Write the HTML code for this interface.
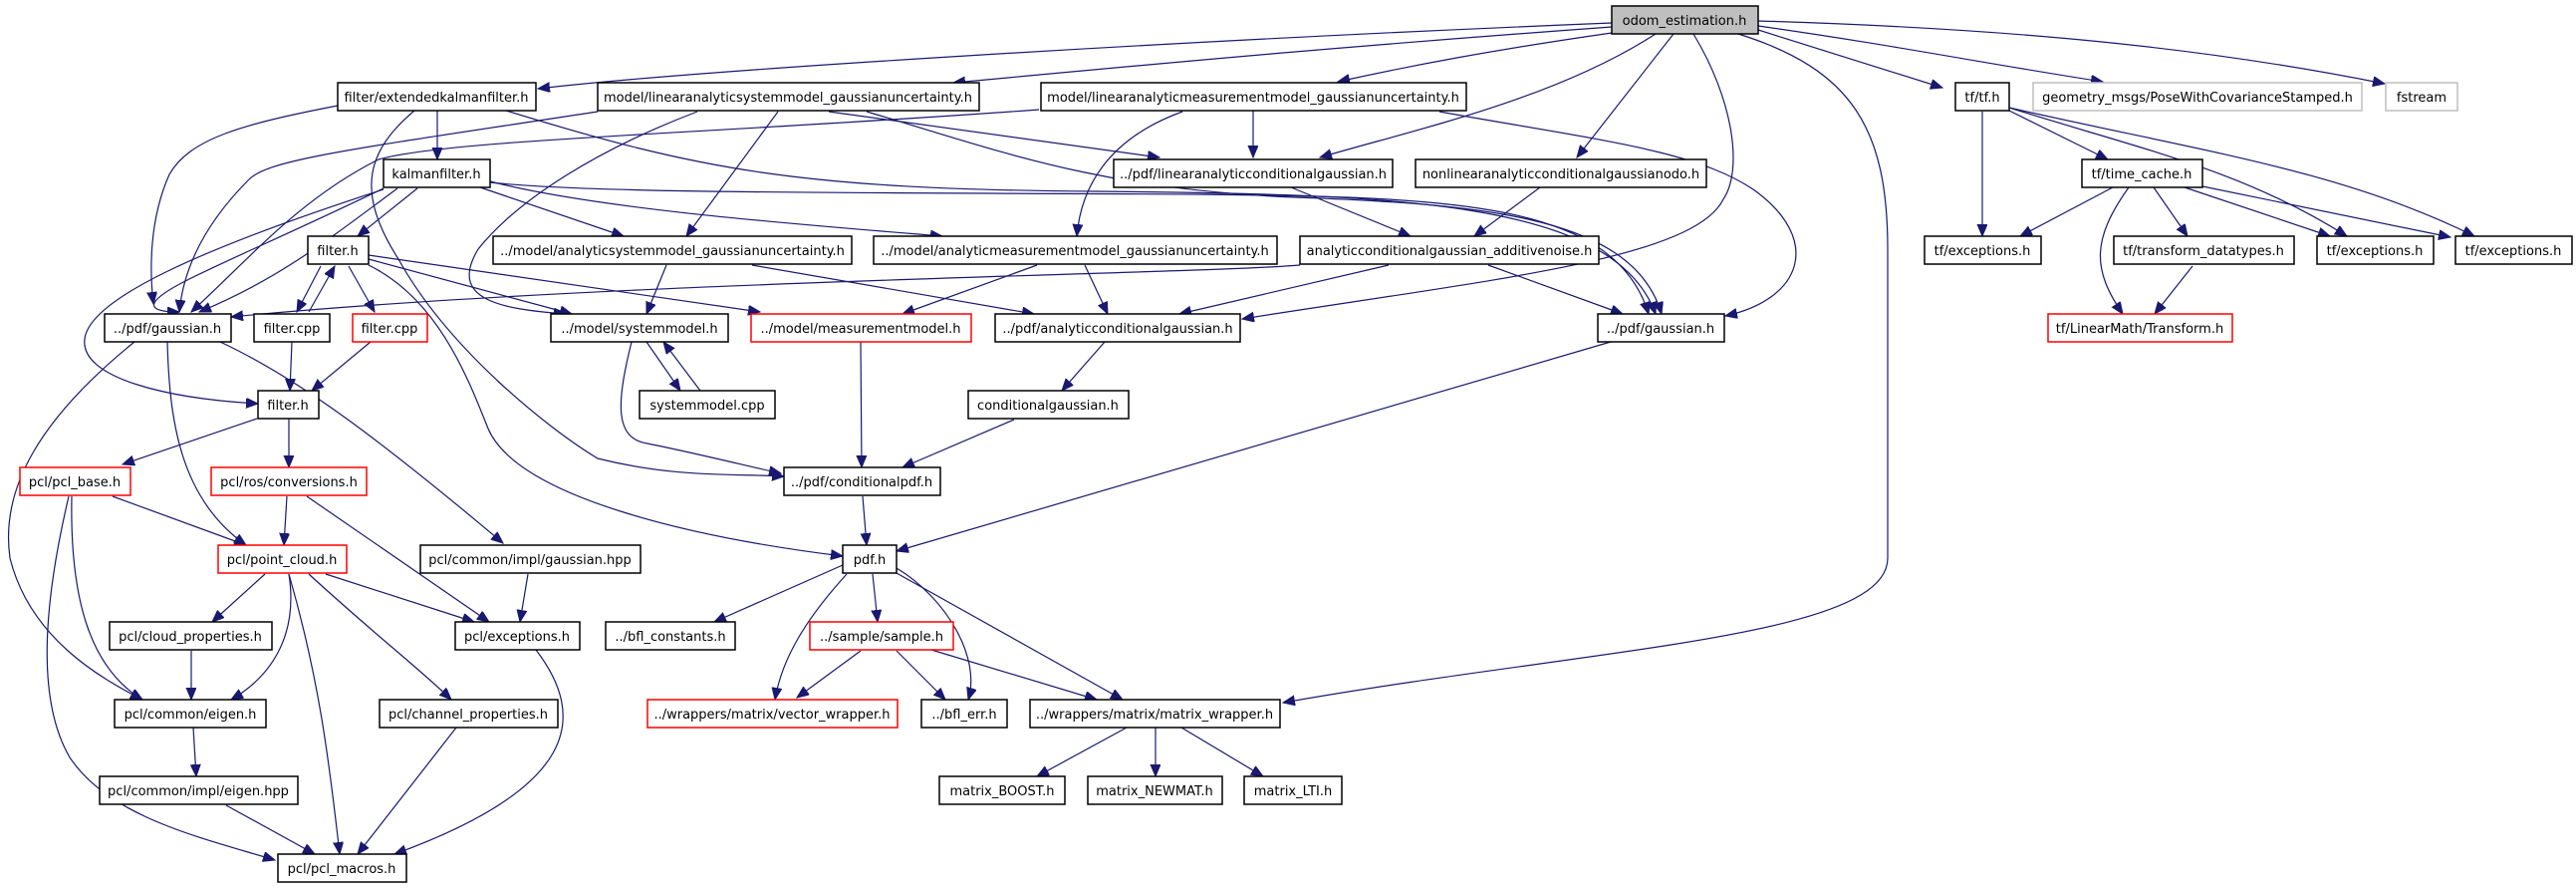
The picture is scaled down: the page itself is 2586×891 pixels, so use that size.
<!DOCTYPE html>
<html><head><meta charset="utf-8"><style>
html,body{margin:0;padding:0;background:#fff;}
svg{display:block;}
text{font-family:"DejaVu Sans","Liberation Sans",sans-serif;font-size:13px;fill:#000;text-anchor:middle;}
.n{fill:#fff;stroke:#000;stroke-width:1.5;}
.r{fill:#fff;stroke:#ff0000;stroke-width:1.5;}
.g{fill:#fff;stroke:#bfbfbf;stroke-width:1.5;}
.e{fill:none;stroke:#191970;stroke-width:1.2;marker-end:url(#a);}
</style></head><body>
<svg width="2586" height="891" viewBox="0 0 2586 891" xmlns="http://www.w3.org/2000/svg">
<defs><marker id="a" markerUnits="userSpaceOnUse" markerWidth="14" markerHeight="12" refX="12" refY="5" orient="auto"><path d="M0,0 L12,5 L0,10 z" fill="#191970" stroke="#191970"/></marker></defs>

<!-- edges -->
<g>
<path class="e" d="M1618,23 C1200,40 700,70 540,89"/>
<path class="e" d="M1618,27 C1300,50 1100,70 957,83"/>
<path class="e" d="M1618,33 C1500,50 1420,65 1343,82"/>
<path class="e" d="M1662,34 C1560,100 1420,130 1325,158"/>
<path class="e" d="M1680,34 L1583,158"/>
<path class="e" d="M1700,34 C1740,100 1750,170 1730,200 C1700,260 1500,280 1247,320"/>
<path class="e" d="M1765,30 L1950,88"/>
<path class="e" d="M1765,26 C1900,45 2000,65 2111,82"/>
<path class="e" d="M1765,21 C2000,28 2200,45 2394,84"/>
<path class="e" d="M1745,34 C1860,70 1895,130 1895,250 L1895,560 C1895,640 1600,650 1288,705"/>

<path class="e" d="M339,106 C240,125 190,140 170,175 C150,220 150,270 154,305"/>
<path class="e" d="M439,111 L439,160"/>
<path class="e" d="M416,111 C370,150 355,190 400,260 C450,350 550,430 600,460 C680,480 740,475 787,478"/>
<path class="e" d="M508,111 C700,170 800,190 1100,192 C1400,195 1620,200 1662,315"/>
<path class="e" d="M600,112 C350,150 270,160 250,180 C215,215 185,260 180,313"/>
<path class="e" d="M700,112 C600,150 520,200 480,250 C450,300 500,310 568,315"/>
<path class="e" d="M781,112 L689,237"/>
<path class="e" d="M832,112 L1164,158"/>
<path class="e" d="M870,112 C1000,150 1100,190 1300,198 C1500,205 1640,220 1668,315"/>
<path class="e" d="M1043,110 C700,135 450,140 380,160 C300,200 250,260 192,313"/>
<path class="e" d="M1258,111 L1258,158"/>
<path class="e" d="M1187,112 C1110,140 1085,190 1081,237"/>
<path class="e" d="M1445,112 C1600,140 1700,150 1760,190 C1830,240 1810,300 1732,317"/>

<path class="e" d="M385,189 C300,230 230,260 190,280 C150,300 140,313 180,313"/>
<path class="e" d="M399,189 C330,240 280,280 200,313"/>
<path class="e" d="M385,190 C200,250 90,300 85,340 C80,380 170,400 259,405"/>
<path class="e" d="M419,189 L359,237"/>
<path class="e" d="M482,188 L626,237"/>
<path class="e" d="M492,182 C600,210 800,225 946,237"/>
<path class="e" d="M492,183 C600,195 900,193 1200,195 C1450,198 1620,200 1655,315"/>

<path class="e" d="M322,267 L298,313"/>
<path class="e" d="M310,313 L336,267"/>
<path class="e" d="M350,267 L376,313"/>
<path class="e" d="M370,260 L574,315"/>
<path class="e" d="M370,256 L763,313"/>
<path class="e" d="M370,266 C440,300 470,380 490,430 C520,500 700,540 846,558"/>

<path class="e" d="M135,343 C40,420 0,490 10,560 C30,640 100,680 143,702"/>
<path class="e" d="M168,343 C170,420 180,500 247,547"/>
<path class="e" d="M221,343 C300,380 380,440 505,545"/>
<path class="e" d="M293,343 L291,392"/>
<path class="e" d="M372,343 L313,392"/>
<path class="e" d="M649,343 L683,392"/>
<path class="e" d="M703,392 L666,343"/>
<path class="e" d="M634,343 C620,400 615,440 650,445 C700,455 760,470 784,475"/>
<path class="e" d="M864,343 L865,469"/>
<path class="e" d="M1109,343 L1066,392"/>
<path class="e" d="M1018,421 L906,469"/>
<path class="e" d="M1617,343 L900,553"/>
<path class="e" d="M1296,188 L1416,237"/>
<path class="e" d="M1546,188 L1480,237"/>
<path class="e" d="M1305,266 C1200,275 600,282 232,318"/>
<path class="e" d="M1394,266 L1184,315"/>
<path class="e" d="M1494,266 L1629,315"/>
<path class="e" d="M1041,266 L906,315"/>
<path class="e" d="M1089,266 L1112,315"/>
<path class="e" d="M669,266 L649,315"/>
<path class="e" d="M755,266 L1038,315"/>

<path class="e" d="M258,420 L123,466"/>
<path class="e" d="M290,420 L290,469"/>
<path class="e" d="M113,498 L247,547"/>
<path class="e" d="M72,498 C70,600 90,670 143,702"/>
<path class="e" d="M69,498 C45,600 35,700 70,760 C110,820 200,840 276,863"/>
<path class="e" d="M288,498 L285,547"/>
<path class="e" d="M308,498 L491,624"/>
<path class="e" d="M266,576 L213,624"/>
<path class="e" d="M290,576 C300,640 270,680 232,702"/>
<path class="e" d="M290,576 C320,680 330,760 341,857"/>
<path class="e" d="M310,576 C380,640 420,670 453,702"/>
<path class="e" d="M327,576 L476,624"/>
<path class="e" d="M530,576 L522,624"/>
<path class="e" d="M192,653 L192,702"/>
<path class="e" d="M194,730 L197,779"/>
<path class="e" d="M227,808 L316,857"/>
<path class="e" d="M458,730 L359,857"/>
<path class="e" d="M538,652 C590,720 580,790 396,857"/>
<path class="e" d="M866,498 L870,547"/>
<path class="e" d="M846,567 L717,624"/>
<path class="e" d="M850,576 C810,620 785,660 778,702"/>
<path class="e" d="M876,576 L881,624"/>
<path class="e" d="M900,570 C950,600 985,660 972,702"/>
<path class="e" d="M900,575 L1127,702"/>
<path class="e" d="M864,653 L800,700"/>
<path class="e" d="M900,653 L949,702"/>
<path class="e" d="M935,652 L1101,702"/>
<path class="e" d="M1131,730 L1041,779"/>
<path class="e" d="M1160,730 L1160,779"/>
<path class="e" d="M1186,730 L1268,779"/>

<path class="e" d="M1990,112 L1990,237"/>
<path class="e" d="M2017,111 L2116,160"/>
<path class="e" d="M2017,108 C2150,150 2250,170 2356,237"/>
<path class="e" d="M2017,108 C2200,150 2350,170 2484,237"/>
<path class="e" d="M2121,188 L2028,237"/>
<path class="e" d="M2137,188 C2100,240 2100,270 2131,315"/>
<path class="e" d="M2162,188 L2196,237"/>
<path class="e" d="M2193,188 L2339,237"/>
<path class="e" d="M2211,187 L2460,238"/>
<path class="e" d="M2201,267 L2163,315"/>
</g>

<!-- nodes -->
<g>
<rect x="1618" y="6" width="147" height="28" fill="#bfbfbf" stroke="#000" stroke-width="1.5"/><text x="1691" y="25">odom_estimation.h</text>
<rect class="n" x="339" y="83" width="199" height="28"/><text x="438" y="102">filter/extendedkalmanfilter.h</text>
<rect class="n" x="600" y="83" width="383" height="28"/><text x="791" y="102">model/linearanalyticsystemmodel_gaussianuncertainty.h</text>
<rect class="n" x="1045" y="83" width="427" height="28"/><text x="1258" y="102">model/linearanalyticmeasurementmodel_gaussianuncertainty.h</text>
<rect class="n" x="1963" y="83" width="54" height="28"/><text x="1990" y="102">tf/tf.h</text>
<rect class="g" x="2041" y="83" width="330" height="28"/><text x="2206" y="102">geometry_msgs/PoseWithCovarianceStamped.h</text>
<rect class="g" x="2395" y="83" width="72" height="28"/><text x="2431" y="102">fstream</text>
<rect class="n" x="385" y="160" width="107" height="28"/><text x="438" y="179">kalmanfilter.h</text>
<rect class="n" x="1118" y="160" width="280" height="28"/><text x="1258" y="179">../pdf/linearanalyticconditionalgaussian.h</text>
<rect class="n" x="1421" y="160" width="292" height="28"/><text x="1567" y="179">nonlinearanalyticconditionalgaussianodo.h</text>
<rect class="n" x="2090" y="160" width="121" height="28"/><text x="2150" y="179">tf/time_cache.h</text>
<rect class="n" x="309" y="237" width="61" height="28"/><text x="339" y="256">filter.h</text>
<rect class="n" x="495" y="237" width="360" height="28"/><text x="675" y="256">../model/analyticsystemmodel_gaussianuncertainty.h</text>
<rect class="n" x="877" y="237" width="405" height="28"/><text x="1079" y="256">../model/analyticmeasurementmodel_gaussianuncertainty.h</text>
<rect class="n" x="1305" y="237" width="300" height="28"/><text x="1455" y="256">analyticconditionalgaussian_additivenoise.h</text>
<rect class="n" x="1932" y="237" width="117" height="28"/><text x="1990" y="256">tf/exceptions.h</text>
<rect class="n" x="2122" y="237" width="181" height="28"/><text x="2212" y="256">tf/transform_datatypes.h</text>
<rect class="n" x="2326" y="237" width="117" height="28"/><text x="2384" y="256">tf/exceptions.h</text>
<rect class="n" x="2465" y="237" width="117" height="28"/><text x="2523" y="256">tf/exceptions.h</text>
<rect class="n" x="105" y="315" width="127" height="28"/><text x="168" y="334">../pdf/gaussian.h</text>
<rect class="n" x="255" y="315" width="76" height="28"/><text x="293" y="334">filter.cpp</text>
<rect class="r" x="354" y="315" width="75" height="28"/><text x="391" y="334">filter.cpp</text>
<rect class="n" x="553" y="315" width="178" height="28"/><text x="642" y="334">../model/systemmodel.h</text>
<rect class="r" x="754" y="315" width="221" height="28"/><text x="864" y="334">../model/measurementmodel.h</text>
<rect class="n" x="999" y="315" width="246" height="28"/><text x="1122" y="334">../pdf/analyticconditionalgaussian.h</text>
<rect class="n" x="1604" y="315" width="127" height="28"/><text x="1667" y="334">../pdf/gaussian.h</text>
<rect class="r" x="2056" y="315" width="185" height="28"/><text x="2148" y="334">tf/LinearMath/Transform.h</text>
<rect class="n" x="259" y="392" width="61" height="28"/><text x="289" y="411">filter.h</text>
<rect class="n" x="642" y="392" width="136" height="28"/><text x="710" y="411">systemmodel.cpp</text>
<rect class="n" x="972" y="392" width="161" height="28"/><text x="1052" y="411">conditionalgaussian.h</text>
<rect class="r" x="20" y="469" width="111" height="28"/><text x="75" y="488">pcl/pcl_base.h</text>
<rect class="r" x="212" y="469" width="156" height="28"/><text x="290" y="488">pcl/ros/conversions.h</text>
<rect class="n" x="787" y="469" width="157" height="28"/><text x="865" y="488">../pdf/conditionalpdf.h</text>
<rect class="r" x="219" y="547" width="129" height="28"/><text x="283" y="566">pcl/point_cloud.h</text>
<rect class="n" x="422" y="547" width="221" height="28"/><text x="532" y="566">pcl/common/impl/gaussian.hpp</text>
<rect class="n" x="846" y="547" width="54" height="28"/><text x="873" y="566">pdf.h</text>
<rect class="n" x="110" y="624" width="163" height="28"/><text x="191" y="643">pcl/cloud_properties.h</text>
<rect class="n" x="457" y="624" width="125" height="28"/><text x="519" y="643">pcl/exceptions.h</text>
<rect class="n" x="608" y="624" width="130" height="28"/><text x="673" y="643">../bfl_constants.h</text>
<rect class="r" x="813" y="624" width="144" height="28"/><text x="885" y="643">../sample/sample.h</text>
<rect class="n" x="115" y="702" width="152" height="28"/><text x="191" y="721">pcl/common/eigen.h</text>
<rect class="n" x="381" y="702" width="179" height="28"/><text x="470" y="721">pcl/channel_properties.h</text>
<rect class="r" x="650" y="702" width="251" height="28"/><text x="775" y="721">../wrappers/matrix/vector_wrapper.h</text>
<rect class="n" x="925" y="702" width="86" height="28"/><text x="968" y="721">../bfl_err.h</text>
<rect class="n" x="1034" y="702" width="251" height="28"/><text x="1159" y="721">../wrappers/matrix/matrix_wrapper.h</text>
<rect class="n" x="100" y="779" width="199" height="28"/><text x="199" y="798">pcl/common/impl/eigen.hpp</text>
<rect class="n" x="943" y="779" width="126" height="28"/><text x="1006" y="798">matrix_BOOST.h</text>
<rect class="n" x="1092" y="779" width="135" height="28"/><text x="1159" y="798">matrix_NEWMAT.h</text>
<rect class="n" x="1249" y="779" width="98" height="28"/><text x="1298" y="798">matrix_LTI.h</text>
<rect class="n" x="279" y="857" width="129" height="28"/><text x="343" y="876">pcl/pcl_macros.h</text>
</g>
</svg>
</body></html>
